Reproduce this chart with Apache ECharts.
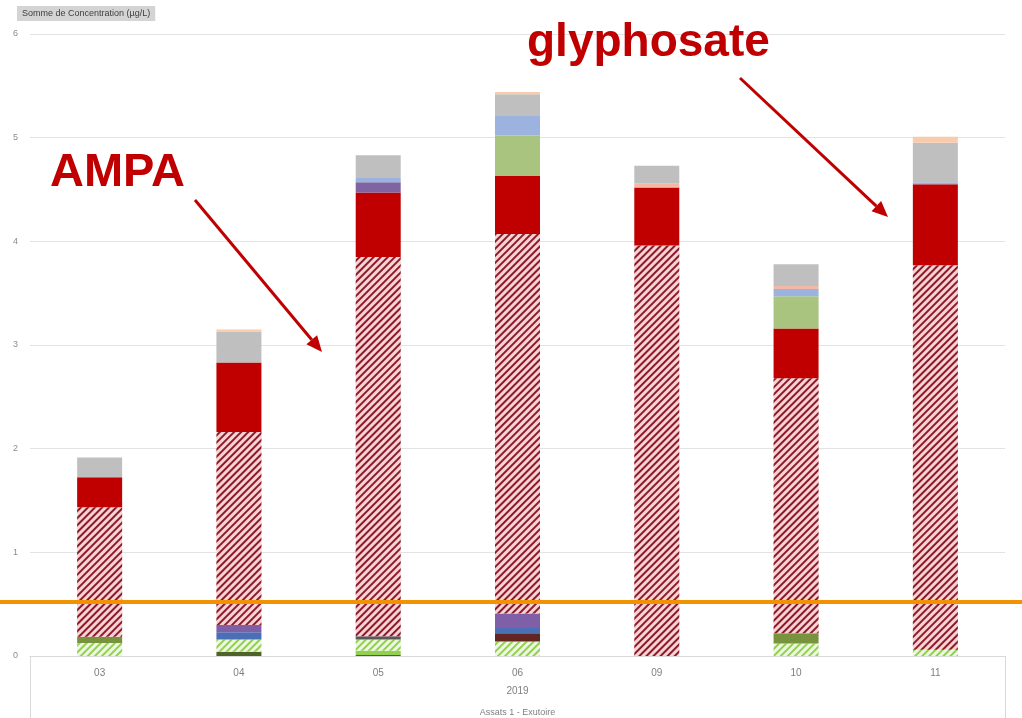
<!DOCTYPE html>
<html>
<head>
<meta charset="utf-8">
<script src="https://cdn.jsdelivr.net/npm/echarts@6/dist/echarts.min.js"></script>
<style>
  html, body { margin: 0; padding: 0; background: #fff; }
  #chart { width: 1022px; height: 718px; }
</style>
</head>
<body>
<div id="chart"></div>
<script>
  const categories = ['03', '04', '05', '06', '09', '10', '11'];
  const yTicks = [0, 1, 2, 3, 4, 5, 6];

  // valeurs empilées du bas vers le haut (µg/L)
  const vertFonce   = [0, 0.04, 0.01, 0, 0, 0, 0];
  const vertClair   = [0, 0, 0.04, 0, 0, 0, 0];
  const vertHachure = [0.125, 0.12, 0.11, 0.14, 0, 0.12, 0.06];
  const olive       = [0.06, 0, 0, 0, 0, 0.10, 0];
  const grisFonce   = [0, 0, 0.03, 0, 0, 0, 0];
  const bordeaux    = [0, 0, 0, 0.08, 0, 0, 0];
  const bleu        = [0, 0.07, 0, 0.05, 0, 0, 0];
  const violet      = [0, 0.07, 0, 0.14, 0, 0, 0];
  const ampa        = [1.25, 1.86, 3.66, 3.66, 3.96, 2.46, 3.71];
  const glyphosate  = [0.29, 0.67, 0.62, 0.56, 0.56, 0.48, 0.78];
  const violetClair = [0, 0, 0.10, 0, 0, 0, 0];
  const vertPale    = [0, 0, 0, 0.39, 0, 0.31, 0];
  const bleuLavande = [0, 0, 0.04, 0.19, 0, 0.07, 0.02];
  const rose        = [0, 0, 0, 0, 0.04, 0.03, 0];
  const gris        = [0.19, 0.30, 0.22, 0.21, 0.17, 0.21, 0.38];
  const peche       = [0, 0.02, 0, 0.02, 0, 0, 0.06];
  const seuil = 0.52;

  const hatch = function (color) {
    return { symbol: 'rect', dashArrayX: [1, 0], dashArrayY: [2, 3], rotation: -Math.PI / 4, color: color };
  };

  const layers = [
    { name: 'vert foncé', data: vertFonce, color: '#4f6228' },
    { name: 'vert clair', data: vertClair, color: '#92d050' },
    { name: 'vert hachuré', data: vertHachure, color: '#eef7e2', decal: hatch('#92d050') },
    { name: 'olive', data: olive, color: '#77933c' },
    { name: 'gris foncé', data: grisFonce, color: '#595959' },
    { name: 'bordeaux', data: bordeaux, color: '#632523' },
    { name: 'bleu', data: bleu, color: '#4a6fb5' },
    { name: 'violet', data: violet, color: '#7f60a8' },
    { name: 'AMPA', data: ampa, color: '#f9d3d3', decal: hatch('#8b1a2b') },
    { name: 'glyphosate', data: glyphosate, color: '#c00000' },
    { name: 'violet clair', data: violetClair, color: '#8064a2' },
    { name: 'vert pâle', data: vertPale, color: '#a9c47f' },
    { name: 'bleu lavande', data: bleuLavande, color: '#9db3df' },
    { name: 'rose', data: rose, color: '#f2b8a8' },
    { name: 'gris', data: gris, color: '#bfbfbf' },
    { name: 'pêche', data: peche, color: '#f8cbad' }
  ];

  function arrow(x1, y1, x2, y2) {
    const a = Math.atan2(y2 - y1, x2 - x1);
    const len = 16, half = 7;
    const bx = x2 - len * Math.cos(a), by = y2 - len * Math.sin(a);
    return [
      { type: 'line', shape: { x1: x1, y1: y1, x2: bx, y2: by }, style: { stroke: '#c00000', lineWidth: 3 } },
      { type: 'polygon', shape: { points: [
        [x2, y2],
        [bx + half * Math.sin(a), by - half * Math.cos(a)],
        [bx - half * Math.sin(a), by + half * Math.cos(a)]
      ] }, style: { fill: '#c00000' } }
    ];
  }

  const myChart = echarts.init(document.getElementById('chart'));
  const option = {
    animation: false,
    title: {
      text: 'Somme de Concentration (µg/L)',
      left: 17,
      top: 6,
      padding: [3, 5],
      backgroundColor: '#d4d4d4',
      textStyle: { fontSize: 9, fontWeight: 'normal', color: '#404040', fontFamily: 'Liberation Sans' }
    },
    grid: { left: 30, right: 17, top: 34, bottom: 62 },
    xAxis: [
      {
        type: 'category',
        data: categories,
        axisLine: { lineStyle: { color: '#d9d9d9' } },
        axisTick: { show: false },
        axisLabel: { color: '#7f7f7f', fontSize: 10, margin: 12, fontFamily: 'Liberation Sans' }
      },
      {
        type: 'category',
        data: ['2019'],
        position: 'bottom',
        axisLine: { show: false },
        axisTick: { show: true, length: 62, lineStyle: { color: '#d9d9d9' } },
        axisLabel: { color: '#7f7f7f', fontSize: 10, margin: 30, fontFamily: 'Liberation Sans' }
      },
      {
        type: 'category',
        data: ['Assats 1 - Exutoire'],
        position: 'bottom',
        axisLine: { show: false },
        axisTick: { show: false },
        axisLabel: { color: '#7f7f7f', fontSize: 9, margin: 52, fontFamily: 'Liberation Sans' }
      }
    ],
    yAxis: {
      type: 'value',
      min: yTicks[0],
      max: yTicks[yTicks.length - 1],
      interval: 1,
      axisLine: { show: false },
      axisTick: { show: false },
      splitLine: { lineStyle: { color: '#e3e3e3' } },
      axisLabel: { color: '#8c8c8c', fontSize: 9, margin: 12, fontFamily: 'Liberation Sans' }
    },
    series: layers.map(function (l) {
      const itemStyle = { color: l.color };
      if (l.decal) {
        itemStyle.decal = l.decal;
      }
      return {
        name: l.name,
        type: 'bar',
        stack: 'total',
        barWidth: 45,
        data: l.data,
        itemStyle: itemStyle
      };
    })
  };
  myChart.setOption(option);

  // ligne de seuil orange sur toute la largeur + annotations
  const ySeuil = myChart.convertToPixel({ yAxisIndex: 0 }, seuil);
  myChart.setOption({
    graphic: [
      { type: 'line', shape: { x1: 0, y1: ySeuil, x2: 1022, y2: ySeuil }, style: { stroke: '#f39200', lineWidth: 4 } },
      { type: 'text', left: 50, top: 150, style: { text: 'AMPA', fill: '#c00000', font: 'bold 47px "Liberation Sans"' } },
      { type: 'text', left: 527, top: 20, style: { text: 'glyphosate', fill: '#c00000', font: 'bold 46px "Liberation Sans"' } }
    ].concat(arrow(195, 200, 322, 352)).concat(arrow(740, 78, 888, 217)).map(function (g) {
      g.z = 100;
      return g;
    })
  });
</script>
</body>
</html>
